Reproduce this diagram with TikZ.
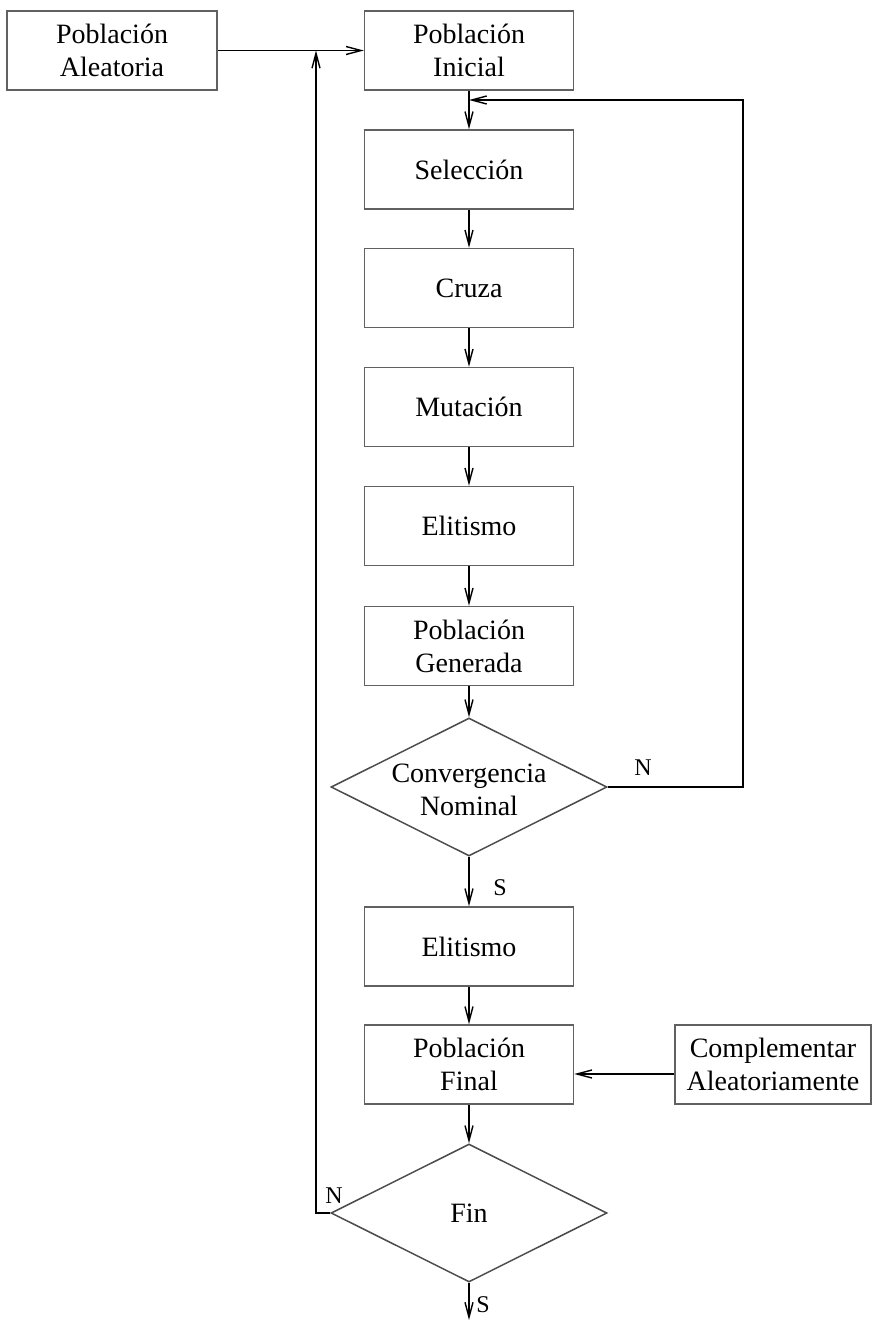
\documentclass[tikz,border=0pt]{standalone}
\usepackage{fontspec}
\setmainfont{Liberation Serif}
\usetikzlibrary{shapes.geometric,arrows.meta}

\begin{document}
\begin{tikzpicture}[x=1pt,y=-1pt,
  every node/.style={font=\fontsize{28}{33}\selectfont},
  proc/.style={draw=black!62, line width=1.5pt, minimum width=209pt,
    minimum height=79pt, inner sep=0pt, align=center},
  decision/.style={diamond, draw=black!70, line width=1.5pt,
    minimum width=276pt, minimum height=138pt, inner sep=0pt},
  flow/.style={draw=black, line width=1.4pt,
    -{Straight Barb[length=15pt,width=8pt,line width=1.4pt]}},
  tag/.style={font=\fontsize{24}{28}\selectfont, inner sep=0pt}]

% page frame
\path[use as bounding box] (0,0) rectangle (873,1320);

% main column
\node[proc] (alea) at (112,50.5) [minimum width=210pt] {Población\\Aleatoria};
\node[proc] (ini)  at (469,50.5)  {Población\\Inicial};
\node[proc] (sel)  at (469,169.5) {Selección};
\node[proc] (cru)  at (469,288)   {Cruza};
\node[proc] (mut)  at (469,407)   {Mutación};
\node[proc] (eli)  at (469,526)   {Elitismo};
\node[proc] (gen)  at (469,646)   {Población\\Generada};
\node[decision] (conv) at (469,787) {};
\node[align=center] (convt) at (469,790) {Convergencia\\Nominal};
\node[proc] (elf)  at (469,946.5) {Elitismo};
\node[proc] (pfin) at (469,1064.5) {Población\\Final};
\node[proc] (comp) at (773,1064.5) [minimum width=196pt] {Complementar\\Aleatoriamente};
\node[decision] (fin) at (469,1213) {};
\node (fint) at (469,1213) {Fin};

% helper points of the loops
\coordinate (back) at (743,100);
\coordinate (loop) at (316,50.5);
\coordinate (out)  at (469,1320);

% straight flow
\draw[flow] (alea) -- (ini);
\draw[flow] (ini) -- (sel);
\draw[flow] (sel) -- (cru);
\draw[flow] (cru) -- (mut);
\draw[flow] (mut) -- (eli);
\draw[flow] (eli) -- (gen);
\draw[flow] (gen) -- (conv.north);
\draw[flow] (conv.south) -- (elf);
\draw[flow] (elf) -- (pfin);
\draw[flow] (pfin) -- (fin.north);
\draw[flow] ([yshift=-9.5pt]comp.west) -- ([yshift=-9.5pt]pfin.east);
\draw[flow] (fin.south) -- (out);

% loops
\draw[flow] (conv.east) -| (back) -- (back -| ini.south);
\draw[flow] (fin.west) -| (loop);

% branch labels
\node[tag] (n1) at (643,768) {N};
\node[tag] (s1) at (500,888) {S};
\node[tag] (n2) at (334,1196) {N};
\node[tag] (s2) at (483,1305) {S};
\end{tikzpicture}
\end{document}
